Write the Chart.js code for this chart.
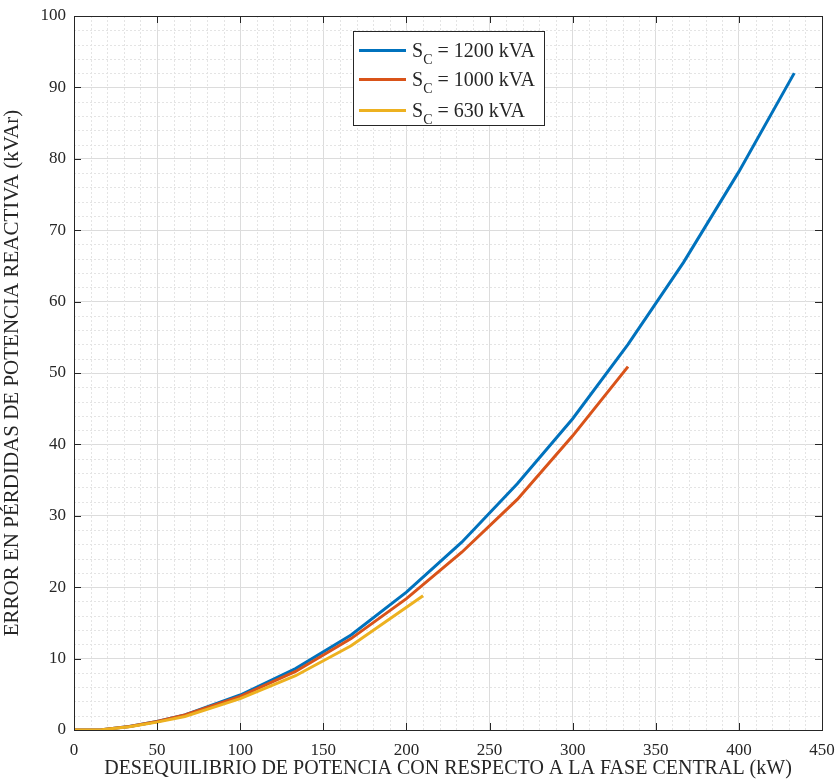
<!DOCTYPE html>
<html>
<head>
<meta charset="utf-8">
<script src="https://cdn.jsdelivr.net/npm/chart.js@4"></script>
<style>
html,body{margin:0;padding:0;background:#fff;}
#wrap{position:relative;width:837px;height:783px;}
#legend{position:absolute;left:353px;top:31px;width:192px;height:95px;background:#fff;border:1px solid #262626;
  font-family:"Liberation Serif",serif;font-size:20px;color:#262626;box-sizing:border-box;}
#legend .row{position:absolute;left:0;height:30px;display:flex;align-items:center;white-space:nowrap;}
#legend .sw{display:inline-block;width:47px;height:3px;margin-left:5px;margin-right:6px;}
#legend .tx{display:inline-block;line-height:20px;}
#legend sub{font-size:14px;vertical-align:-7px;line-height:0;}
</style>
</head>
<body>
<div id="wrap">
<canvas id="c" width="837" height="783"></canvas>
<div id="legend"></div>
</div>
<script>
// ---- data ----
const seriesLabels = ["1200 kVA", "1000 kVA", "630 kVA"];
const seriesColors = ["#0072BD", "#D95319", "#EDB120"];
const x1200 = [0, 16.7, 33.3, 50, 66.7, 100, 133.3, 166.7, 200, 233.3, 266.7, 300, 333.3, 366.7, 400, 433.3];
const y1200 = [0, 0.05, 0.5, 1.2, 2.1, 4.9, 8.6, 13.3, 19.3, 26.3, 34.5, 43.6, 54.0, 65.5, 78.2, 92.0];
const x1000 = [0, 16.7, 33.3, 50, 66.7, 100, 133.3, 166.7, 200, 233.3, 266.7, 300, 333.3];
const y1000 = [0, 0.05, 0.5, 1.2, 2.1, 4.7, 8.2, 12.8, 18.4, 24.9, 32.3, 41.2, 50.9];
const x630 = [0, 16.7, 33.3, 50, 66.7, 100, 133.3, 166.7, 210];
const y630 = [0, 0.05, 0.45, 1.1, 1.9, 4.4, 7.6, 11.8, 18.8];
const xTicks = [0, 50, 100, 150, 200, 250, 300, 350, 400, 450];
const yTicks = [0, 10, 20, 30, 40, 50, 60, 70, 80, 90, 100];
const xTitle = "DESEQUILIBRIO DE POTENCIA CON RESPECTO A LA FASE CENTRAL (kW)";
const yTitle = "ERROR EN PÉRDIDAS DE POTENCIA REACTIVA (kVAr)";

const toPts = (xs, ys) => xs.map((x, i) => ({x: x, y: ys[i]}));

// legend (HTML, with subscript)
const leg = document.getElementById('legend');
const rowTops = [3, 32, 63];
seriesLabels.forEach((l, i) => {
  const r = document.createElement('div');
  r.className = 'row';
  r.style.top = rowTops[i] + 'px';
  r.innerHTML = '<span class="sw" style="background:' + seriesColors[i] + '"></span><span class="tx">S<sub>C</sub>&nbsp;=&nbsp;' + l + '</span>';
  leg.appendChild(r);
});

const frame = {
  id: 'frame',
  beforeDatasetsDraw(chart) {
    const {ctx, chartArea: a, scales: {x, y}} = chart;
    ctx.save();
    ctx.strokeStyle = '#e4e4e4';
    ctx.lineWidth = 1;
    ctx.setLineDash([2, 2]);
    for (let v = 10; v < 450; v += 10) {
      if (v % 50 === 0) continue;
      const px = Math.round(x.getPixelForValue(v)) + 0.5;
      ctx.beginPath(); ctx.moveTo(px, a.top); ctx.lineTo(px, a.bottom); ctx.stroke();
    }
    for (let v = 2; v < 100; v += 2) {
      if (v % 10 === 0) continue;
      const py = Math.round(y.getPixelForValue(v)) + 0.5;
      ctx.beginPath(); ctx.moveTo(a.left, py); ctx.lineTo(a.right, py); ctx.stroke();
    }
    ctx.restore();
  },
  afterDraw(chart) {
    const {ctx, chartArea: a, scales: {x, y}} = chart;
    ctx.save();
    ctx.strokeStyle = '#262626';
    ctx.lineWidth = 1;
    ctx.strokeRect(Math.round(a.left) + 0.5, Math.round(a.top) + 0.5, Math.round(a.right - a.left), Math.round(a.bottom - a.top));
    const tl = 7;
    ctx.beginPath();
    xTicks.forEach(v => {
      const px = Math.round(x.getPixelForValue(v)) + 0.5;
      ctx.moveTo(px, a.bottom); ctx.lineTo(px, a.bottom - tl);
      ctx.moveTo(px, a.top); ctx.lineTo(px, a.top + tl);
    });
    yTicks.forEach(v => {
      const py = Math.round(y.getPixelForValue(v)) + 0.5;
      ctx.moveTo(a.left, py); ctx.lineTo(a.left + tl, py);
      ctx.moveTo(a.right, py); ctx.lineTo(a.right - tl, py);
    });
    ctx.stroke();
    ctx.restore();
  }
};

new Chart(document.getElementById('c'), {
  type: 'scatter',
  data: {
    datasets: [
      {label: 'S_C = ' + seriesLabels[0], data: toPts(x1200, y1200), borderColor: seriesColors[0], order: 3},
      {label: 'S_C = ' + seriesLabels[1], data: toPts(x1000, y1000), borderColor: seriesColors[1], order: 2},
      {label: 'S_C = ' + seriesLabels[2], data: toPts(x630, y630), borderColor: seriesColors[2], order: 1}
    ].map(d => Object.assign(d, {showLine: true, borderWidth: 3, pointRadius: 0, tension: 0, fill: false}))
  },
  options: {
    responsive: false,
    animation: false,
    devicePixelRatio: 1,
    layout: {padding: {top: 16, right: 15, left: 0, bottom: 0}},
    plugins: {legend: {display: false}, tooltip: {enabled: false}},
    scales: {
      x: {
        type: 'linear', min: 0, max: 450,
        afterFit(s) { s.height = 53; s.paddingLeft = 0; s.paddingRight = 0; },
        afterBuildTicks(s) { s.ticks = xTicks.map(v => ({value: v})); },
        ticks: {color: '#262626', padding: 10, font: {family: 'Liberation Serif', size: 17}},
        grid: {color: '#dcdcdc', lineWidth: 1, drawTicks: false},
        border: {display: false},
        title: {display: true, text: xTitle, color: '#262626', font: {family: 'Liberation Serif', size: 20}, padding: {top: 0, bottom: 2}}
      },
      y: {
        type: 'linear', min: 0, max: 100,
        afterFit(s) { s.width = 74; s.paddingTop = 0; s.paddingBottom = 0; },
        afterBuildTicks(s) { s.ticks = yTicks.map(v => ({value: v})); },
        ticks: {color: '#262626', padding: 8, font: {family: 'Liberation Serif', size: 17}},
        grid: {color: '#dcdcdc', lineWidth: 1, drawTicks: false},
        border: {display: false},
        title: {display: true, text: yTitle, color: '#262626', font: {family: 'Liberation Serif', size: 21}, padding: {top: 0, bottom: 0}}
      }
    }
  },
  plugins: [frame]
});
</script>
</body>
</html>
